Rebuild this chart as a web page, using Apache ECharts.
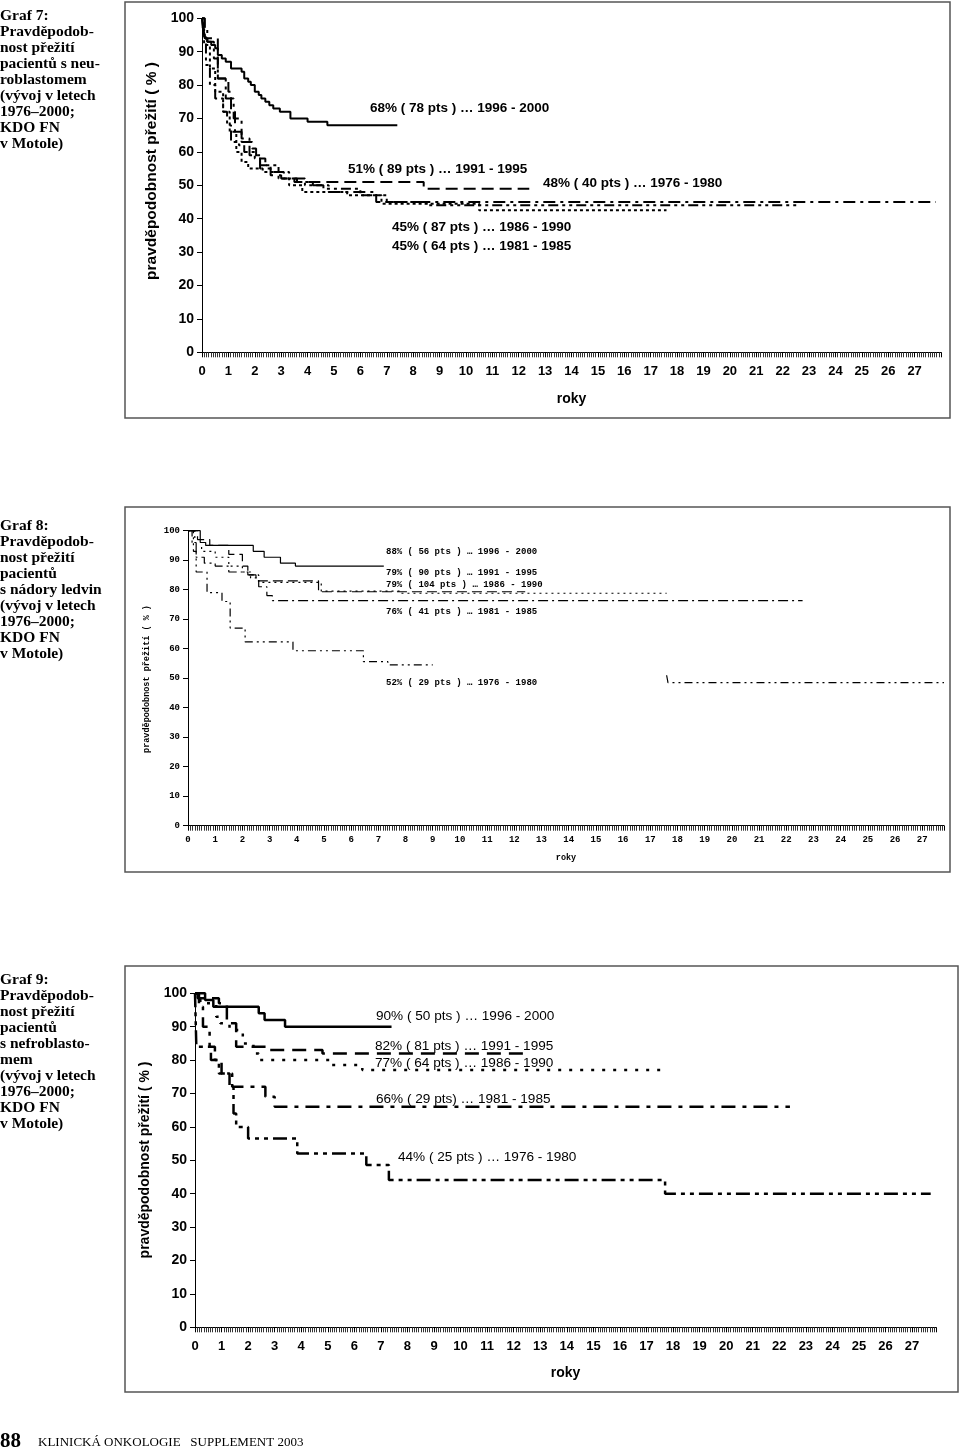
<!DOCTYPE html>
<html><head><meta charset="utf-8">
<script src="https://cdn.jsdelivr.net/npm/echarts@6/dist/echarts.min.js"></script>
<style>html,body{margin:0;padding:0;background:#fff}#c{width:960px;height:1450px}</style>
</head><body><div id="c"></div><script>
// ---------- DATA ----------
const xTickLabels = [0,1,2,3,4,5,6,7,8,9,10,11,12,13,14,15,16,17,18,19,20,21,22,23,24,25,26,27];
const yTickValues = [0,10,20,30,40,50,60,70,80,90,100];

// Graf 7 (neuroblastom) — [years, survival %]
const g7_1996 = [[0,100],[0.05,97],[0.12,94],[0.2,93],[0.35,92],[0.5,91],[0.6,89],[0.75,88],[0.9,87],[1.1,85],[1.5,84],[1.6,82],[1.75,81],[1.85,80],[2.0,78],[2.15,77],[2.25,76],[2.4,75],[2.55,74],[2.7,73],[2.95,72],[3.35,70],[4.0,69],[4.75,68],[7.4,68]];
const g7_1991 = [[0,100],[0.1,94],[0.6,82],[1.0,78],[1.1,72],[1.25,66],[1.5,63],[1.9,61],[2.05,58],[2.2,55],[2.6,53],[3.0,52],[3.5,51],[8.4,49],[12.4,49]];
const g7_1986 = [[0,100],[0.08,92],[0.3,85],[0.5,78],[0.8,72],[1.05,66],[1.3,60],[1.5,57],[1.75,55],[2.3,54],[2.9,52],[3.3,50],[3.8,48],[5.5,47],[6.8,44.5],[10.5,42.5],[17.6,42.5]];
const g7_1981 = [[0,100],[0.05,95],[0.15,86],[0.3,80],[0.5,76],[0.8,72],[0.95,68],[1.1,63],[1.4,62],[1.6,60],[2.0,58],[2.4,56],[2.9,54],[3.3,52],[3.9,50],[4.6,49],[6.0,47],[7.0,45],[8.5,44],[22.6,44]];
const g7_1976 = [[0,100],[0.1,97],[0.2,93],[0.45,88],[0.6,82],[0.9,76],[1.2,70],[1.5,64],[1.8,59],[2.2,56],[2.6,54],[3.1,52],[3.6,51],[4.2,50],[4.8,48],[6.6,45],[27.8,45]];
const g7Labels = ['68% ( 78 pts ) … 1996 - 2000','51% ( 89 pts ) … 1991 - 1995','48% ( 40 pts ) … 1976 - 1980','45% ( 87 pts ) … 1986 - 1990','45% ( 64 pts ) … 1981 - 1985'];

// Graf 8 (nádory ledvin)
const g8_1996 = [[0,100],[0.45,96],[0.65,95],[2.4,93],[2.8,91],[3.4,89],[3.95,88],[7.2,88]];
const g8_1991 = [[0,100],[0.35,97],[0.8,95],[1.5,92],[2.0,88],[2.2,85],[2.5,83],[4.8,79.3],[12.4,79.3]];
const g8_1986 = [[0,100],[0.25,96],[0.5,93],[1.0,91],[1.5,88],[2.0,86],[2.3,84],[2.6,82.5],[4.9,79.5],[7.8,78.8],[17.6,78.8]];
const g8_1981 = [[0,100],[0.15,96],[0.3,91],[0.6,89],[1.0,88],[1.5,86],[2.2,85],[2.6,81],[2.9,78],[3.1,76.3],[22.6,76.3]];
const g8_1976 = [[0,100],[0.2,93],[0.3,86],[0.7,79],[1.25,76],[1.55,67],[2.1,62.3],[3.86,59.3],[6.45,55.6],[7.35,54.5],[7.45,54.5],[9,null],[17.6,51],[17.65,48.5],[27.8,48.5]];
const g8Labels = ['88% ( 56 pts ) … 1996 - 2000','79% ( 90 pts ) … 1991 - 1995','79% ( 104 pts ) … 1986 - 1990','76% ( 41 pts ) … 1981 - 1985','52% ( 29 pts ) … 1976 - 1980'];

// Graf 9 (nefroblastom)
const g9_1996 = [[0,100],[0.38,98],[0.69,96],[2.4,94],[2.62,92],[3.39,90],[7.4,90]];
const g9_1991 = [[0,100],[0.1,98.5],[0.9,97],[1.2,91],[1.55,84],[2.8,83],[4.8,82],[12.6,82]];
const g9_1986 = [[0,100],[0.2,97],[0.8,93],[0.95,91],[1.3,89],[1.8,85],[2.2,82],[2.4,80],[5.1,78.5],[6.3,77],[17.6,77]];
const g9_1981 = [[0,100],[0.15,96],[0.3,90],[0.55,84],[0.75,80],[1.0,76],[1.4,72],[2.65,69],[3.0,66],[22.4,66]];
const g9_1976 = [[0,100],[0.05,84],[0.6,80],[0.9,76],[1.3,72],[1.45,64],[1.55,60],[2.0,56.5],[3.85,52],[6.45,48.6],[7.3,44.1],[17.7,40],[27.7,40]];
const g9Labels = ['90% ( 50 pts ) … 1996 - 2000','82% ( 81 pts ) … 1991 - 1995','77% ( 64 pts ) … 1986 - 1990','66% ( 29 pts) … 1981 - 1985','44% ( 25 pts ) … 1976 - 1980'];

const captions = [
  'Graf 7:\nPravděpodob-\nnost přežití\npacientů s neu-\nroblastomem\n(vývoj v letech\n1976–2000;\nKDO FN\nv Motole)',
  'Graf 8:\nPravděpodob-\nnost přežití\npacientů\ns nádory ledvin\n(vývoj v letech\n1976–2000;\nKDO FN\nv Motole)',
  'Graf 9:\nPravděpodob-\nnost přežití\npacientů\ns nefroblasto-\nmem\n(vývoj v letech\n1976–2000;\nKDO FN\nv Motole)'
];
const yTitle = 'pravděpodobnost přežití ( % )';
const xTitle = 'roky';

// ---------- LAYOUT / STYLE ----------
const SANS = 'Liberation Sans, Arial, sans-serif';
const MONO = 'Liberation Mono, DejaVu Sans Mono, monospace';
const panels = [
  {grid:{left:202, top:18.3, width:739, height:334}, max:28, font:SANS, tickSize:14, xSize:13, nameSize:15.5, yTitlePos:[152,171], xGap:40, xMargin:13, w:2,
   lines:[[g7_1996,'solid'],[g7_1991,[12,6]],[g7_1986,[3,3]],[g7_1981,[10,4,3,4,3,4]],[g7_1976,[12,5,3,5]]],
   labels:g7Labels, pos:[[370,108],[348,169],[543,183],[392,227],[392,246]], lblSize:13.5, lblWeight:'bold', lblFont:SANS},
  {grid:{left:188, top:530.7, width:756, height:295}, max:27.8, font:MONO, tickSize:9, xSize:9, nameSize:8.5, yTitlePos:[147,679], xGap:28, xMargin:10, w:1.2,
   lines:[[g8_1996,'solid'],[g8_1991,[10,5]],[g8_1986,[2,4]],[g8_1981,[10,4,2,4]],[g8_1976,[8,4,2,4,2,4]]],
   labels:g8Labels, pos:[[386,552],[386,573],[386,585],[386,612],[386,683]], lblSize:9, lblWeight:'bold', lblFont:MONO},
  {grid:{left:195, top:993.3, width:741, height:334}, max:27.9, font:SANS, tickSize:14, xSize:13, nameSize:14, yTitlePos:[145,1160], xGap:39, xMargin:13, w:2.5,
   lines:[[g9_1996,'solid'],[g9_1991,[14,8]],[g9_1986,[3,8]],[g9_1981,[14,7,4,7]],[g9_1976,[14,5,4,5,4,5]]],
   labels:g9Labels, pos:[[376,1016],[375,1046],[375,1063],[376,1099],[398,1157]], lblSize:13.6, lblWeight:'normal', lblFont:SANS}
];
const boxes = [[125,2,825,416],[125,507,825,365],[125,966,833,426]];
const capTop = [8,518,972];

const grids=[], xAxes=[], yAxes=[], series=[], graphics=[];
panels.forEach((p,i)=>{
  grids.push(Object.assign({containLabel:false}, p.grid));
  xAxes.push({type:'value', gridIndex:i, min:0, max:p.max, interval:1,
    name:xTitle, nameLocation:'middle', nameGap:p.xGap,
    nameTextStyle:{fontFamily:p.font, fontSize:(i===1?8.5:14), fontWeight:'bold', color:'#000'},
    axisLine:{lineStyle:{color:'#000', width:1}},
    axisTick:{show:true, length:5, lineStyle:{color:'#000'}},
    minorTick:{show:true, splitNumber:12, length:5, lineStyle:{color:'#333'}},
    splitLine:{show:false},
    axisLabel:{margin:p.xMargin, fontFamily:p.font, fontSize:p.xSize, fontWeight:'bold', color:'#000',
      formatter:v=> (xTickLabels.indexOf(v)>=0 ? String(v) : '')}
  });
  yAxes.push({type:'value', gridIndex:i, min:0, max:100, interval:10,
    axisLine:{show:true, lineStyle:{color:'#000', width:1}},
    axisTick:{show:true, length:5, lineStyle:{color:'#000'}},
    splitLine:{show:false},
    axisLabel:{margin:8, fontFamily:p.font, fontSize:p.tickSize, fontWeight:'bold', color:'#000',
      formatter:v=> (yTickValues.indexOf(v)>=0 ? String(v) : '')}
  });
  p.lines.forEach(([data,type])=>{
    series.push({type:'line', xAxisIndex:i, yAxisIndex:i, data:data, step:'end', showSymbol:false, symbol:'none',
      connectNulls:false, silent:true, animation:false,
      lineStyle:{color:'#000', width:p.w, type:type}});
  });
  graphics.push({type:'text', x:p.yTitlePos[0], y:p.yTitlePos[1], rotation:Math.PI/2, silent:true,
    style:{text:yTitle, fontFamily:p.font, fontSize:p.nameSize, fontWeight:'bold', fill:'#000', align:'center', verticalAlign:'middle'}});
  p.labels.forEach((t,k)=>{
    graphics.push({type:'text', x:p.pos[k][0], y:p.pos[k][1], silent:true,
      style:{text:t, fontFamily:p.lblFont, fontSize:p.lblSize, fontWeight:p.lblWeight, fill:'#000', verticalAlign:'middle'}});
  });
});
boxes.forEach(b=>graphics.push({type:'rect', shape:{x:b[0], y:b[1], width:b[2], height:b[3]}, silent:true,
  style:{fill:'none', stroke:'#555', lineWidth:1.5}}));
captions.forEach((c,i)=>graphics.push({type:'text', x:0, y:capTop[i], silent:true,
  style:{text:c, fontFamily:'Liberation Serif, Times New Roman, serif', fontSize:15.5, fontWeight:'bold', lineHeight:16, fill:'#000'}}));
graphics.push({type:'text', x:0, y:1431, silent:true, style:{text:'88', fontFamily:'Liberation Serif, serif', fontSize:21, fontWeight:'bold', fill:'#000'}});
graphics.push({type:'text', x:38, y:1436, silent:true, style:{text:'KLINICKÁ ONKOLOGIE   SUPPLEMENT 2003', fontFamily:'Liberation Serif, serif', fontSize:13, fill:'#000'}});

const chart = echarts.init(document.getElementById('c'), null, {renderer:'canvas'});
chart.setOption({animation:false, backgroundColor:'#fff', grid:grids, xAxis:xAxes, yAxis:yAxes, series:series, graphic:graphics});
</script></body></html>
